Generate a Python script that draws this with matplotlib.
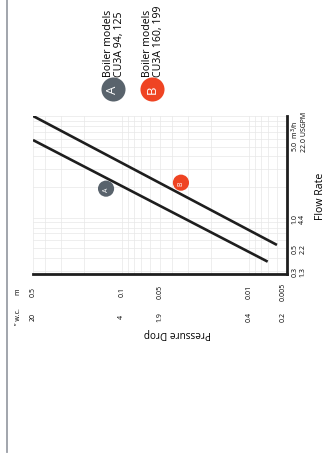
import numpy as np
import matplotlib
matplotlib.use("Agg")
import matplotlib.pyplot as plt

plt.rcParams['font.family'] = ['Open Sans', 'DejaVu Sans']

# ---- data ----
# pressure drop in m, flow rate in m3/h
line_a_p = [0.5, 0.0071]
line_a_f = [5.8, 0.37]
line_b_p = [0.5, 0.0060]
line_b_f = [10.0, 0.54]

marker_labels = ["A", "B"]
marker_p = [0.133, 0.0342]
marker_f = [1.93, 2.21]
marker_colors = ["#59636c", "#ef4423"]

p_ticks = [0.5, 0.1, 0.05, 0.01, 0.005]
p_labels_m = ["0.5", "0.1", "0.05", "0.01", "0.005"]
p_labels_in = ["20", "4", "1.9", "0.4", "0.2"]

f_ticks = [0.3, 0.5, 1.0]
f_labels = ["0.3\n1.3", "0.5\n2.2", "1.0\n4.4"]

legend_text = ["Boiler models\nCU3A 94, 125", "Boiler models\nCU3A 160, 199"]

# ---- figure (chart is drawn turned 90 degrees) ----
fig = plt.figure(figsize=(3.33, 4.56), dpi=100)
ax = fig.add_axes([0.0991, 0.397, 0.7628, 0.3465])

ax.set_xscale("log")
ax.set_yscale("log")
ax.set_xlim(0.5, 0.005)
ax.set_ylim(0.28, 10)

ax.grid(True, which="both", color="#e8e8e8", lw=0.5)
ax.set_axisbelow(True)
ax.tick_params(which="both", length=0, labelbottom=False, labelleft=False)

for s in ["left", "top"]:
    ax.spines[s].set_visible(False)
for s in ["bottom", "right"]:
    ax.spines[s].set_linewidth(2.0)
    ax.spines[s].set_color("#1e1e1e")

ax.plot(line_a_p, line_a_f, color="#1e1e1e", lw=1.9, solid_capstyle="butt")
ax.plot(line_b_p, line_b_f, color="#1e1e1e", lw=1.9, solid_capstyle="butt")

ax.scatter(marker_p, marker_f, s=135, c=marker_colors, zorder=5, linewidths=0)
for lab, p, f in zip(marker_labels, marker_p, marker_f):
    ax.text(p, f, lab, color="white", fontsize=5, rotation=90,
            ha="center", va="center", zorder=6)

# pressure tick labels (two rows: m and inches w.c.)
xt = ax.get_xaxis_transform()
for i, p in enumerate(p_ticks):
    ha = "right" if i == len(p_ticks) - 1 else "center"
    ax.text(p, -0.108, p_labels_m[i], transform=xt, rotation=90,
            ha=ha, va="center", fontsize=5)
    ax.text(p, -0.266, p_labels_in[i], transform=xt, rotation=90,
            ha=ha, va="center", fontsize=5)
ax.text(0.57, -0.37, "Pressure Drop", transform=ax.transAxes, rotation=180,
        ha="center", va="center", fontsize=7.2)

# flow tick labels
yt = ax.get_yaxis_transform()
for f, lab in zip(f_ticks, f_labels):
    ax.text(1.047, f, lab, transform=yt, rotation=90, ha="center",
            va="center", fontsize=5, linespacing=1.1)
ax.text(1.047, 4.5, "5.0  m$^3$/h\n22.0 USGPM", transform=yt, rotation=90,
        ha="center", va="bottom", fontsize=5, linespacing=1.1,
        multialignment="left")
ax.text(1.13, 0.5, "Flow Rate", transform=ax.transAxes, rotation=90,
        ha="center", va="center", fontsize=7.6)

# overlay in pixel coords for header, legend and frame line
ov = fig.add_axes([0, 0, 1, 1], zorder=-1)
ov.set_xlim(0, 333)
ov.set_ylim(456, 0)
ov.axis("off")
ov.plot([7, 7], [0, 453], color="#9a9ea6", lw=1.3)
ov.text(18, 292, "m", rotation=90, ha="center", va="center", fontsize=5)
ov.text(18, 317, "\u201d w.c.", rotation=90, ha="center", va="center", fontsize=5)

leg_x = [113, 152]
for x, lab, col, txt in zip(leg_x, marker_labels, marker_colors, legend_text):
    ov.scatter([x], [90], s=300, c=col, linewidths=0)
    ov.text(x, 90, lab, color="white", fontsize=9.5, rotation=90,
            ha="center", va="center")
    ov.text(x + 1, 77, txt, rotation=90, ha="center", va="bottom",
            fontsize=7.6, linespacing=1.05, multialignment="left")

fig.savefig("out.png", dpi=100, facecolor="white")
